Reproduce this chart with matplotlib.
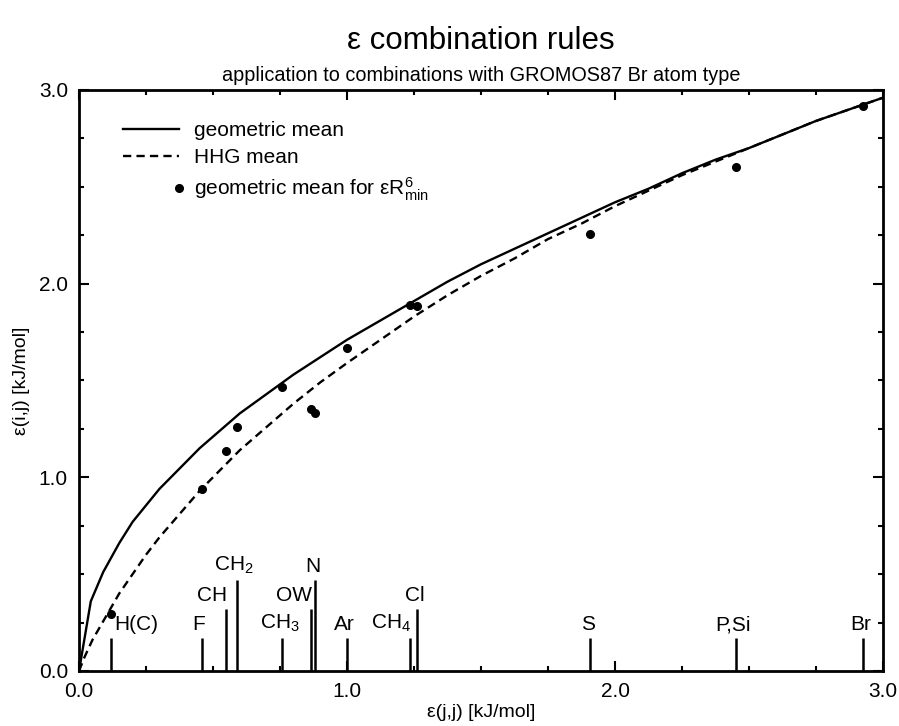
import matplotlib
matplotlib.use("Agg")
import matplotlib.pyplot as plt
from matplotlib.lines import Line2D
from matplotlib.legend_handler import HandlerBase
from matplotlib.ticker import MultipleLocator

plt.rcParams['font.family'] = ['Liberation Sans', 'DejaVu Sans']
plt.rcParams['mathtext.fontset'] = 'custom'
plt.rcParams['mathtext.rm'] = 'Liberation Sans'
plt.rcParams['mathtext.it'] = 'Liberation Sans:italic'
plt.rcParams['mathtext.bf'] = 'Liberation Sans:bold'

# atom types: epsilon(j,j) and the combined value with Br (geometric mean for eps*R^6)
species = ['H(C)', 'F', 'CH', 'CH$_2$', 'CH$_3$', 'OW', 'N', 'Ar', 'CH$_4$', 'Cl', 'S', 'P,Si', 'Br']
eps_jj = [0.118, 0.458, 0.548, 0.589, 0.759, 0.866, 0.882, 1.000, 1.235, 1.262, 1.908, 2.450, 2.926]
eps_r6 = [0.294, 0.938, 1.137, 1.261, 1.468, 1.351, 1.334, 1.667, 1.888, 1.886, 2.254, 2.604, 2.917]

# curves
geo_x = [0.0, 0.044, 0.09, 0.15, 0.2, 0.25, 0.3, 0.35, 0.4, 0.45, 0.5, 0.55, 0.6, 0.675, 0.75, 0.8, 0.9, 1.0,
         1.125, 1.25, 1.375, 1.5, 1.625, 1.75, 1.875, 2.0, 2.125, 2.25, 2.375, 2.5, 2.625, 2.75, 2.875, 3.0]
geo_y = [0.0, 0.36, 0.51, 0.66, 0.77, 0.855, 0.94, 1.01, 1.08, 1.15, 1.21, 1.27, 1.33, 1.405, 1.48, 1.53, 1.62, 1.71,
         1.81, 1.91, 2.01, 2.10, 2.18, 2.26, 2.34, 2.42, 2.49, 2.57, 2.64, 2.70, 2.77, 2.84, 2.90, 2.96]
hhg_x = [0.0, 0.02, 0.05, 0.1, 0.15, 0.2, 0.25, 0.3, 0.35, 0.4, 0.45, 0.5, 0.55, 0.6, 0.675, 0.75, 0.8, 0.9, 1.0,
         1.125, 1.25, 1.375, 1.5, 1.625, 1.75, 1.875, 2.0, 2.125, 2.25, 2.375, 2.5, 2.625, 2.75, 2.875, 3.0]
hhg_y = [0.0, 0.07, 0.16, 0.28, 0.40, 0.50, 0.60, 0.69, 0.77, 0.85, 0.93, 1.00, 1.07, 1.14, 1.23, 1.32, 1.38, 1.49, 1.59,
         1.71, 1.83, 1.94, 2.04, 2.13, 2.23, 2.31, 2.40, 2.48, 2.56, 2.63, 2.70, 2.77, 2.84, 2.90, 2.96]

# layout of the marker sticks along the x axis
stick_h = [0.17, 0.17, 0.32, 0.47, 0.17, 0.32, 0.47, 0.17, 0.17, 0.32, 0.17, 0.17, 0.17]
label_ha = ['left', 'center', 'right', 'center', 'center', 'right', 'center', 'center', 'right', 'center', 'center', 'center', 'center']


class RightDot(HandlerBase):
    def create_artists(self, legend, orig_handle, xdescent, ydescent, width, height, fontsize, trans):
        dot = Line2D([width - xdescent], [height / 2 - ydescent], marker='o', ms=5.5,
                     color='black', ls='none', transform=trans)
        return [dot]


fig = plt.figure(figsize=(8.99, 7.26), dpi=100)
ax = fig.add_axes([0.0879, 0.0758, 0.8943, 0.8003])

l_geo, = ax.plot(geo_x, geo_y, color='black', lw=1.7, solid_joinstyle='round')
l_hhg, = ax.plot(hhg_x, hhg_y, color='black', lw=1.7, ls=(0, (3.5, 2.2)))
l_dot, = ax.plot(eps_jj, eps_r6, 'o', color='black', ms=5.5, ls='none')

for name, x, h, ha in zip(species, eps_jj, stick_h, label_ha):
    ax.plot([x, x], [0, h], color='black', lw=1.8, solid_capstyle='butt')
    if ha == 'left':
        ax.text(x + 0.015, h + 0.02, name, ha='left', va='bottom', fontsize=15)
    elif ha == 'right':
        ax.text(x + 0.005, h + 0.02, name, ha='right', va='bottom', fontsize=15)
    else:
        ax.text(x - 0.01, h + 0.02, name, ha='center', va='bottom', fontsize=15)

ax.set_xlim(0, 3)
ax.set_ylim(0, 3)
ax.xaxis.set_major_locator(MultipleLocator(1.0))
ax.yaxis.set_major_locator(MultipleLocator(1.0))
ax.xaxis.set_minor_locator(MultipleLocator(0.25))
ax.yaxis.set_minor_locator(MultipleLocator(0.25))
ax.xaxis.set_major_formatter('{x:.1f}')
ax.yaxis.set_major_formatter('{x:.1f}')
ax.tick_params(which='both', direction='in', top=True, right=True, width=1.5, labelsize=15)
ax.tick_params(which='major', length=7, pad=8)
ax.tick_params(which='minor', length=3.5)
for s in ax.spines.values():
    s.set_linewidth(2.0)

ax.set_xlabel('ε(j,j) [kJ/mol]', fontsize=14, labelpad=2)
ax.set_ylabel('ε(i,j) [kJ/mol]', fontsize=14, labelpad=6)

ax.legend([l_geo, l_hhg, l_dot],
          ['geometric mean', 'HHG mean', 'geometric mean for εR$^{6}_{\\mathrm{min}}$'],
          handler_map={l_dot: RightDot()},
          loc='upper left', bbox_to_anchor=(0.031, 0.978), frameon=False,
          fontsize=15, handlelength=2.7, handletextpad=0.7, labelspacing=0.38)

fig.text(0.535, 0.944, 'ε combination rules', ha='center', va='center', fontsize=22.5)
fig.text(0.535, 0.896, 'application to combinations with GROMOS87 Br atom type', ha='center', va='center', fontsize=14.3)

fig.savefig('out.png', dpi=100)
